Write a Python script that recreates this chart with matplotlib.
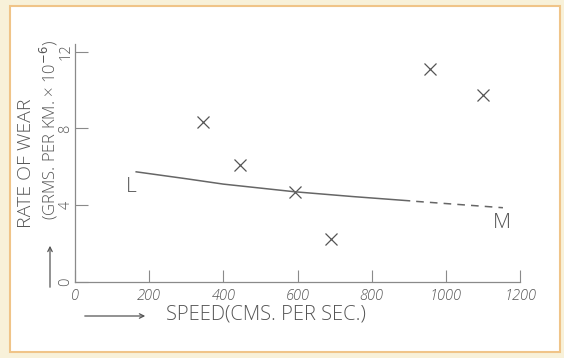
import matplotlib
matplotlib.use("Agg")
import matplotlib.pyplot as plt
from matplotlib.patches import Rectangle, FancyArrowPatch

# Data
speed_points = [346, 446, 593, 689, 957, 1101]
wear_points = [8.32, 6.11, 4.70, 2.24, 11.08, 9.74]
line_solid_x = [165, 300, 400, 593, 750, 902]
line_solid_y = [5.74, 5.38, 5.10, 4.70, 4.45, 4.23]
line_dash_x = [920, 1154]
line_dash_y = [4.20, 3.87]
x_ticks = [0, 200, 400, 600, 800, 1000, 1200]
x_ticklabels = ["0", "200", "400", "600", "800", "1000", "1200"]
y_ticks = [0, 4, 8, 12]
y_ticklabels = ["0", "4", "8", "12"]

W, H = 564, 358
ink = "#555555"
fam = ["Open Sans", "DejaVu Sans"]
plt.rcParams['font.family'] = fam
plt.rcParams['mathtext.fontset'] = 'dejavusans'
wt = "light"

fig = plt.figure(figsize=(W / 100, H / 100), dpi=100)
fig.patch.set_facecolor("#f8f1d9")

def px(x, y):
    return (x / W, 1 - y / H)

# paper sheet
x0, y0 = px(10, 352)
x1, y1 = px(560, 6)
sheet = Rectangle((x0, y0), x1 - x0, y1 - y0, transform=fig.transFigure,
                  facecolor="white", edgecolor="#f0c488", linewidth=1.5, zorder=-10)
fig.add_artist(sheet)

ax = fig.add_axes([75 / W, 1 - 282 / H, (520 - 75) / W, (282 - 44) / H])
ax.set_zorder(5)
ax.set_facecolor("none")
ax.set_xlim(0, 1178)
ax.set_ylim(0, 12.4)
for s in ["top", "right"]:
    ax.spines[s].set_visible(False)
for s in ["left", "bottom"]:
    ax.spines[s].set_color("#8a8a8a")
    ax.spines[s].set_linewidth(0.9)

ax.set_xticks(x_ticks)
ax.set_xticklabels(x_ticklabels, fontsize=10.5, color=ink, style="italic", fontweight=wt)
ax.set_yticks(y_ticks)
ax.set_yticklabels(y_ticklabels, fontsize=10.5, color=ink, rotation=90, va="center", fontweight=wt)
ax.tick_params(axis="x", direction="in", length=9, width=0.8, color="#8a8a8a", pad=5)
ax.tick_params(axis="y", direction="in", length=9, width=0.8, color="#8a8a8a", pad=1)
for lab in ax.get_xticklabels():
    lab.set_clip_on(False)

ax.plot(speed_points, wear_points, linestyle="none", marker="x", markersize=8,
        markeredgewidth=0.9, color=ink, clip_on=False)
ax.plot(line_solid_x, line_solid_y, color="#666666", linewidth=1.1)
ax.plot(line_dash_x, line_dash_y, color="#666666", linewidth=1.1, linestyle=(0, (5, 4)))

ax.text(151, 4.95, "L", fontsize=15, color=ink, ha="center", va="center", fontweight=wt)
ax.text(1150, 3.07, "M", fontsize=15, color=ink, ha="center", va="center", fontweight=wt)

# y label
fx, fy = px(26, 163)
fig.text(fx, fy, "RATE OF WEAR", rotation=90, fontsize=14, color=ink,
         ha="center", va="center", fontweight=wt)
fx, fy = px(49, 130)
fig.text(fx, fy, "(GRMS. PER KM. \u00d7 10$^{-6}$)", rotation=90, fontsize=12, color=ink,
         ha="center", va="center", fontweight=wt)

# x label
fx, fy = px(266, 314)
fig.text(fx, fy, "SPEED(CMS. PER SEC.)", fontsize=14.5, color=ink,
         ha="center", va="center", fontweight=wt)

# arrows
fig.add_artist(FancyArrowPatch(px(82, 316), px(148, 316), transform=fig.transFigure,
                               arrowstyle="->", mutation_scale=8, color=ink, linewidth=0.9))
fig.add_artist(FancyArrowPatch(px(50, 290), px(50, 243), transform=fig.transFigure,
                               arrowstyle="->", mutation_scale=8, color=ink, linewidth=0.9))

fig.savefig("out.png", dpi=100, facecolor=fig.get_facecolor())
